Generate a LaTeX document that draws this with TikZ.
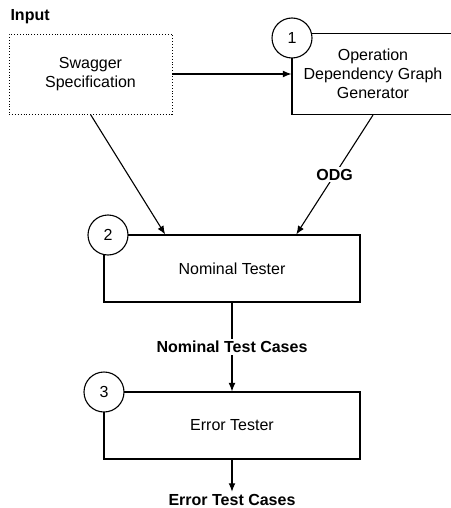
\documentclass[tikz,border=0pt]{standalone}
\usepackage{fontspec}
\setmainfont{Liberation Sans}
\usetikzlibrary{arrows.meta,positioning,calc}

\begin{document}
\begin{tikzpicture}[x=1pt, y=-1pt, line width=1.1pt,
  font=\fontsize{16}{19}\selectfont,
  box/.style={draw, fill=white, minimum width=#1, align=center},
  num/.style={draw, circle, fill=white, minimum size=40pt, inner sep=0pt},
  flow/.style={-{Latex[length=3mm,width=2.4mm]}},
  lbl/.style={font=\fontsize{16}{19}\selectfont\bfseries, fill=white, inner sep=2pt}
]
\useasboundingbox (0,0) rectangle (450,508);
% input
\node[lbl, anchor=west] (in) at (8,17) {Input};
\node[box=163pt, minimum height=80pt, dotted, line width=0.9pt] (sw) at (90.5,74) {Swagger\\Specification};
% components
\node[box=162pt, minimum height=81pt] (odg) at (373,74) {Operation\\Dependency Graph\\Generator};
\node[num] (c1) at (292,38) {1};
\node[box=256pt, minimum height=67pt] (nt) at (232,268.5) {Nominal Tester};
\node[num] (c2) at (108,235) {2};
\node[box=256pt, minimum height=67pt] (et) at (232,425.5) {Error Tester};
\node[num] (c3) at (104,392) {3};
\node[lbl] (etc) at (232,500) {Error Test Cases};
% flows
\coordinate (ntA) at ($(nt.north west)!0.24!(nt.north east)$);
\coordinate (ntB) at ($(nt.north west)!0.75!(nt.north east)$);
\draw[flow] (sw.east) -- (sw.east -| odg.west);
\draw[flow] (sw.south) -- (ntA);
\draw[flow] (odg.south) -- node[lbl] {ODG} (ntB);
\draw[flow] (nt.south) -- node[lbl] {Nominal Test Cases} (et.north);
\draw[flow] (et.south) -- (etc.north);
\end{tikzpicture}
\end{document}
